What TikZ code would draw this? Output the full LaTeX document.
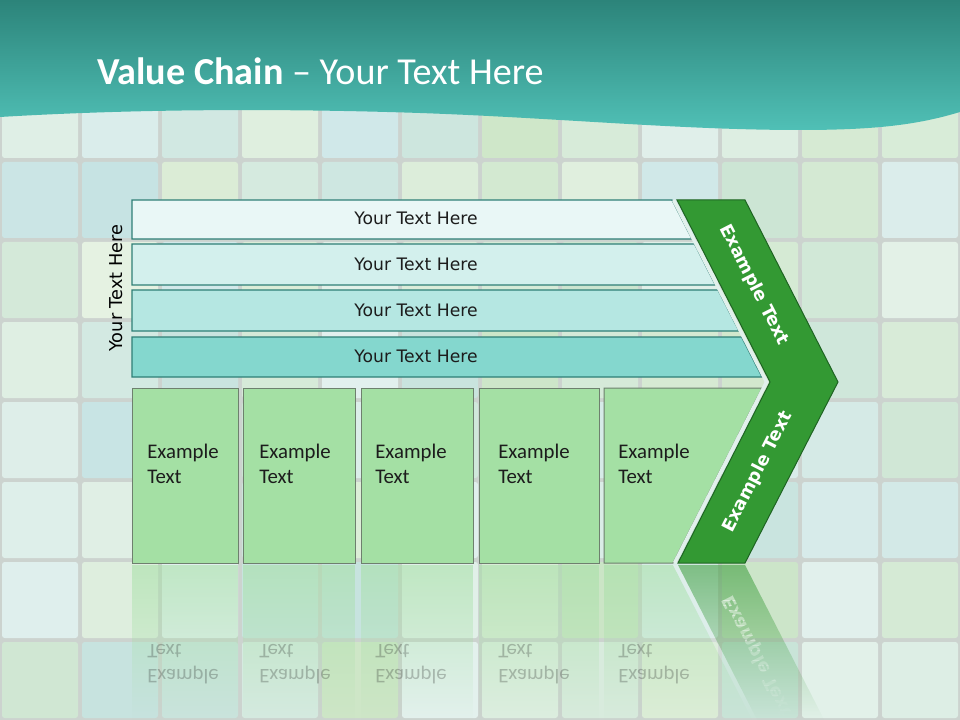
\documentclass[tikz,border=0pt]{standalone}
\usepackage{fontspec}
\setmainfont{Carlito}
\newfontfamily\verd{DejaVu Sans}
\usetikzlibrary{fadings}
\definecolor{gapc}{RGB}{204,211,207}
\definecolor{tileA}{RGB}{190,222,180}
\definecolor{tileB}{RGB}{184,220,222}
\definecolor{hdtop}{RGB}{44,132,122}
\definecolor{hdbot}{RGB}{80,192,182}
\definecolor{rowline}{RGB}{47,127,118}
\definecolor{rowA}{RGB}{233,247,246}
\definecolor{rowB}{RGB}{211,240,237}
\definecolor{rowC}{RGB}{181,231,226}
\definecolor{rowD}{RGB}{132,215,206}
\definecolor{boxg}{RGB}{164,224,164}
\definecolor{boxline}{RGB}{110,128,110}
\definecolor{chevg}{RGB}{51,153,51}
\definecolor{chevline}{RGB}{30,100,34}
\definecolor{bandc}{RGB}{226,240,236}
\definecolor{txtc}{RGB}{28,28,28}
\tikzfading[name=reflfade, top color=transparent!45, bottom color=transparent!100]
\tikzset{
 rowshape/.style={draw=rowline, line width=0.9pt},
 rowtext/.style={font=\verd\fontsize{12.9}{15}\selectfont, text=txtc, inner sep=0pt, anchor=base},
 boxshape/.style={fill=boxg, draw=boxline, line width=0.75pt},
 boxtext/.style={font=\fontsize{15.6}{19.1}\selectfont, text=txtc, align=left, anchor=west, inner sep=0pt},
 chevshape/.style={fill=chevg, draw=chevline, line width=0.75pt},
 chevtext/.style={font=\verd\bfseries\fontsize{13.3}{16}\selectfont, text=white, inner sep=0pt},
 band/.style={draw=bandc, line width=2.6pt},
 reflshape/.style={path fading=reflfade},
 refltext/.style={boxtext, yscale=-1, text opacity=0.26},
}
\begin{document}
\begin{tikzpicture}[x=0.75pt,y=-0.75pt]
\useasboundingbox (0,0) rectangle (960,720);
% background tiles
\fill[gapc] (0,0) rectangle (960,720);
\pgfmathsetseed{11}
\foreach \i in {0,...,11}{
 \foreach \j in {1,...,8}{
  \pgfmathtruncatemacro{\ra}{random(0,100)}
  \pgfmathtruncatemacro{\rl}{random(40,80)}
  \colorlet{tilec}{tileA!\ra!tileB}
  \fill[tilec!\rl!white, rounded corners=2pt] (80*\i+2,80*\j+2) rectangle (80*\i+78,80*\j+78);
 }
}
% header
\shade[top color=hdtop, bottom color=hdbot] (0,0) -- (960,0) -- (960,112)
  .. controls (920,124) and (880,130) .. (800,130)
  .. controls (680,130) and (560,118) .. (420,113)
  .. controls (300,109) and (150,108) .. (0,117) -- cycle;
\node[anchor=base west, inner sep=0pt, text=white, font=\fontsize{28.6}{34}\selectfont] (title) at (97,85) {\textbf{Value Chain} – Your Text Here};
% rows
\filldraw[rowshape, fill=rowA] (132,200) -- (672,200) -- (692,239) -- (132,239) -- cycle;
\filldraw[rowshape, fill=rowB] (132,244) -- (694.5,244) -- (715.4,285) -- (132,285) -- cycle;
\filldraw[rowshape, fill=rowC] (132,290) -- (718,290) -- (739,331) -- (132,331) -- cycle;
\filldraw[rowshape, fill=rowD] (132,337) -- (741.6,337) -- (762,377) -- (132,377) -- cycle;
\node[rowtext] (r1) at (416,225) {Your Text Here};
\node[rowtext] (r2) at (416,270.5) {Your Text Here};
\node[rowtext] (r3) at (416,316) {Your Text Here};
\node[rowtext] (r4) at (416,362.5) {Your Text Here};
\node[rotate=90, font=\verd\fontsize{13.3}{16}\selectfont, text=black, inner sep=0pt] (side) at (116,288) {Your Text Here};
% boxes
\filldraw[boxshape] (132,388) rectangle (238,563);
\filldraw[boxshape] (243,388) rectangle (355,563);
\filldraw[boxshape] (361,388) rectangle (473,563);
\filldraw[boxshape] (479,388) rectangle (599,563);
\filldraw[boxshape] (604,388) -- (762,388) -- (673,563) -- (604,563) -- cycle;
\node[boxtext] (b1) at (147,464) {Example\\Text};
\node[boxtext] (b2) at (259,464) {Example\\Text};
\node[boxtext] (b3) at (375,464) {Example\\Text};
\node[boxtext] (b4) at (498,464) {Example\\Text};
\node[boxtext] (b5) at (618,464) {Example\\Text};
% chevron
\draw[band] (673.5,200) -- (766.5,382) -- (674.5,563);
\filldraw[chevshape] (677,200) -- (745,200) -- (838,382) -- (745,563) -- (678,563) -- (770,382) -- cycle;
\node[chevtext, rotate=-63] (c1) at (754,285) {Example Text};
\node[chevtext, rotate=63] (c2) at (758,472) {Example Text};
% reflection shapes
\foreach \xa/\xb in {132/238,243/355,361/473,479/599}{%
  \fill[boxg, reflshape] (\xa,565) rectangle (\xb,720);}
\fill[boxg, reflshape] (604,565) -- (673,565) -- (752.2,720) -- (604,720) -- cycle;
\fill[bandc, reflshape] (673,565) -- (678,565) -- (757.2,720) -- (752.2,720) -- cycle;
\fill[chevg, reflshape] (678,565) -- (745,565) -- (824.2,720) -- (757.2,720) -- cycle;
% reflection texts
\node[refltext] (rb1) at (147,664) {Example\\Text};
\node[refltext] (rb2) at (259,664) {Example\\Text};
\node[refltext] (rb3) at (375,664) {Example\\Text};
\node[refltext] (rb4) at (498,664) {Example\\Text};
\node[refltext] (rb5) at (618,664) {Example\\Text};
\foreach \k in {0,...,30}{
 \pgfmathsetmacro{\ya}{565+5*\k}
 \pgfmathsetmacro{\yb}{570+5*\k}
 \pgfmathsetmacro{\op}{0.6*(1-(\k+0.5)/31)}
 \begin{scope}
  \clip (0,\ya) rectangle (960,\yb);
  \node[chevtext, rotate=-63, yscale=-1, text opacity=\op] (rc2) at (758,656) {Example Text};
 \end{scope}
}
\end{tikzpicture}
\end{document}
